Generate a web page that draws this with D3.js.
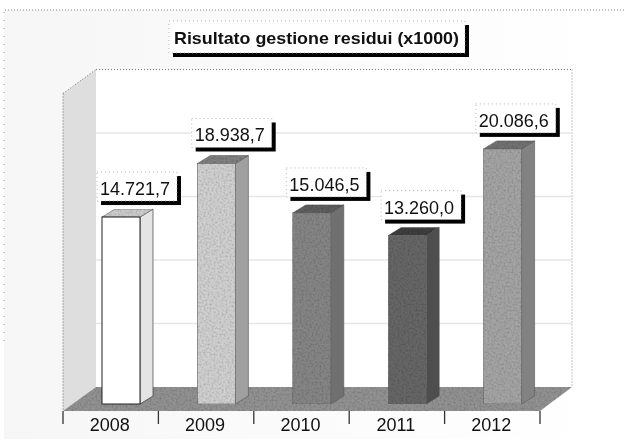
<!DOCTYPE html>
<html><head><meta charset="utf-8">
<style>html,body{margin:0;padding:0;background:#fff}svg{display:block;filter:blur(0.35px)}text{font-family:"Liberation Sans",Arial,sans-serif;fill:#111}</style>
<script src="https://cdnjs.cloudflare.com/ajax/libs/d3/7.8.5/d3.min.js"></script>
</head><body><div id="c"></div>
<script>
const categories=["2008","2009","2010","2011","2012"];
const values=[14721.7,18938.7,15046.5,13260.0,20086.6];
const labels=["14.721,7","18.938,7","15.046,5","13.260,0","20.086,6"];
const gridValues=[5000,10000,15000,20000];
const chartTitle="Risultato gestione residui (x1000)";
const frontColors=["#ffffff","#d0d0d0","#858585","#666666","#a4a4a4"];
const sideColors=["#e4e4e4","#a0a0a0","#707070","#4e4e4e","#828282"];
const topColors=["#cccccc","#808080","#5e5e5e","#404040","#727272"];

const W=624,H=443;
const svg=d3.select("#c").append("svg").attr("width",W).attr("height",H);
const defs=svg.append("defs");
const g=defs.append("linearGradient").attr("id","bg");
g.append("stop").attr("offset","0").attr("stop-color","#f6f6f6");
g.append("stop").attr("offset","0.6").attr("stop-color","#fcfcfc");
g.append("stop").attr("offset","1").attr("stop-color","#ffffff");
const f=defs.append("filter").attr("id","speck").attr("x","0").attr("y","0").attr("width","1").attr("height","1");
f.append("feTurbulence").attr("type","fractalNoise").attr("baseFrequency","0.5").attr("numOctaves","2").attr("seed","3").attr("result","n");
f.append("feColorMatrix").attr("in","n").attr("type","matrix").attr("values","0 0 0 0 0  0 0 0 0 0  0 0 0 0 0  0.7 0 0 0 -0.27").attr("result","a");
f.append("feComposite").attr("in","a").attr("in2","SourceGraphic").attr("operator","in").attr("result","b");
f.append("feMerge").selectAll("feMergeNode").data(["SourceGraphic","b"]).enter().append("feMergeNode").attr("in",d=>d);

const x=d3.scaleBand().domain(categories).range([63,540]);
const frontBase=404, backBase=387, perPx=317.5;
const yBar=d3.scaleLinear().domain([0,25000]).range([frontBase,frontBase-perPx]);
const yBack=d3.scaleLinear().domain([0,25000]).range([backBase,backBase-perPx]);
const wallDx=33,wallDy=24,barOff=39,barW=38,depthX=13,depthY=8;

// page
svg.append("rect").attr("x",4).attr("y",10).attr("width",W-4).attr("height",429).attr("fill","url(#bg)");
const dotted=(x1,y1,x2,y2,c="#777",dash="1 2")=>svg.append("line").attr("x1",x1).attr("y1",y1).attr("x2",x2).attr("y2",y2).attr("stroke",c).attr("stroke-dasharray",dash);
dotted(5,10,W,10,"#888");dotted(4,12,4,345,"#999","1 7");

// walls
const L=x.range()[0],R=x.range()[1],wallTop=yBack(25000);
const pts=a=>a.map(p=>p.join(",")).join(" ");
svg.append("polygon").attr("points",pts([[L+wallDx,wallTop],[R+wallDx-1,wallTop],[R+wallDx-1,backBase],[L+wallDx,backBase]])).attr("fill","#fff");
svg.append("polygon").attr("points",pts([[L,wallTop+wallDy],[L+wallDx,wallTop],[L+wallDx,backBase],[L,backBase+wallDy]])).attr("fill","#dedede");
svg.append("polygon").attr("points",pts([[L,backBase+wallDy],[L+wallDx,backBase],[R+wallDx-1,backBase],[R,backBase+wallDy]])).attr("fill","#929292").attr("filter","url(#speck)");
dotted(L+wallDx,wallTop,R+wallDx-1,wallTop);dotted(R+wallDx-1,wallTop,R+wallDx-1,backBase,"#888");
dotted(L,wallTop+wallDy,L+wallDx,wallTop);dotted(L,wallTop+wallDy,L,backBase+wallDy,"#666");

svg.append("g").selectAll("line").data(gridValues).enter().append("line")
 .attr("x1",L+wallDx).attr("x2",R+wallDx-1).attr("y1",d=>yBack(d)).attr("y2",d=>yBack(d))
 .attr("stroke","#e6e6e6").attr("stroke-width",1.5);

// bars
const data=categories.map((c,i)=>({c,i,v:values[i],l:labels[i]}));
const bars=svg.append("g").selectAll("g").data(data).enter().append("g");
const bx=d=>x(d.c)+barOff;
bars.append("polygon").attr("points",d=>pts([[bx(d)+barW,yBar(d.v)],[bx(d)+barW+depthX,yBar(d.v)-depthY],[bx(d)+barW+depthX,frontBase-depthY],[bx(d)+barW,frontBase]]))
 .attr("fill",d=>sideColors[d.i]).attr("stroke",d=>d.i==0?"#222":"#555").attr("stroke-width",.6);
bars.append("polygon").attr("points",d=>pts([[bx(d),yBar(d.v)],[bx(d)+depthX,yBar(d.v)-depthY],[bx(d)+barW+depthX,yBar(d.v)-depthY],[bx(d)+barW,yBar(d.v)]]))
 .attr("fill",d=>topColors[d.i]).attr("stroke","#555").attr("stroke-width",.5).attr("filter","url(#speck)");
bars.append("rect").attr("x",bx).attr("y",d=>yBar(d.v)).attr("width",barW).attr("height",d=>frontBase-yBar(d.v))
 .attr("fill",d=>frontColors[d.i]).attr("stroke",d=>d.i==0?"#222":"#666").attr("stroke-width",d=>d.i==0?1:.6).attr("filter",d=>d.i==0?null:"url(#speck)");

// axis
const axisY=backBase+wallDy;
const ax=svg.append("g").attr("transform",`translate(0,${axisY})`).call(d3.axisBottom(x).tickSize(0).tickPadding(7));
ax.select(".domain").remove();
ax.selectAll("text").attr("font-size",18).attr("dx",-1).style("font-family",'"Liberation Sans",Arial,sans-serif').attr("fill","#111");
svg.append("g").selectAll("line").data(d3.range(categories.length+1)).enter().append("line")
 .attr("x1",i=>L+i*x.step()).attr("x2",i=>L+i*x.step()).attr("y1",axisY).attr("y2",axisY+13).attr("stroke","#333").attr("stroke-width",1.3);

// shadow box helper
function box(sel,bxX,bxY,w,h){
 sel.append("rect").attr("x",bxX+4).attr("y",bxY+4).attr("width",w).attr("height",h).attr("fill","#000");
 sel.append("rect").attr("x",bxX).attr("y",bxY).attr("width",w).attr("height",h).attr("fill","#fff").attr("stroke","#999").attr("stroke-width",.7).attr("stroke-dasharray","1 3");
}
// value labels
svg.append("g").selectAll("g").data(data).enter().append("g").each(function(d){
 const s=d3.select(this),cx=bx(d)+33-d.i*0.7,ty=yBar(d.v)-45;
 box(s,cx-38,ty,80,29);
 s.append("text").attr("x",cx).attr("y",ty+23).attr("text-anchor","middle").attr("font-size",18).text(d.l);
});
// title
const t=svg.append("g");
box(t,169,21,296,32);
t.append("text").attr("x",174).attr("y",44).attr("font-size",17).attr("font-weight","bold").attr("textLength",285).attr("lengthAdjust","spacingAndGlyphs").text(chartTitle);
</script></body></html>
